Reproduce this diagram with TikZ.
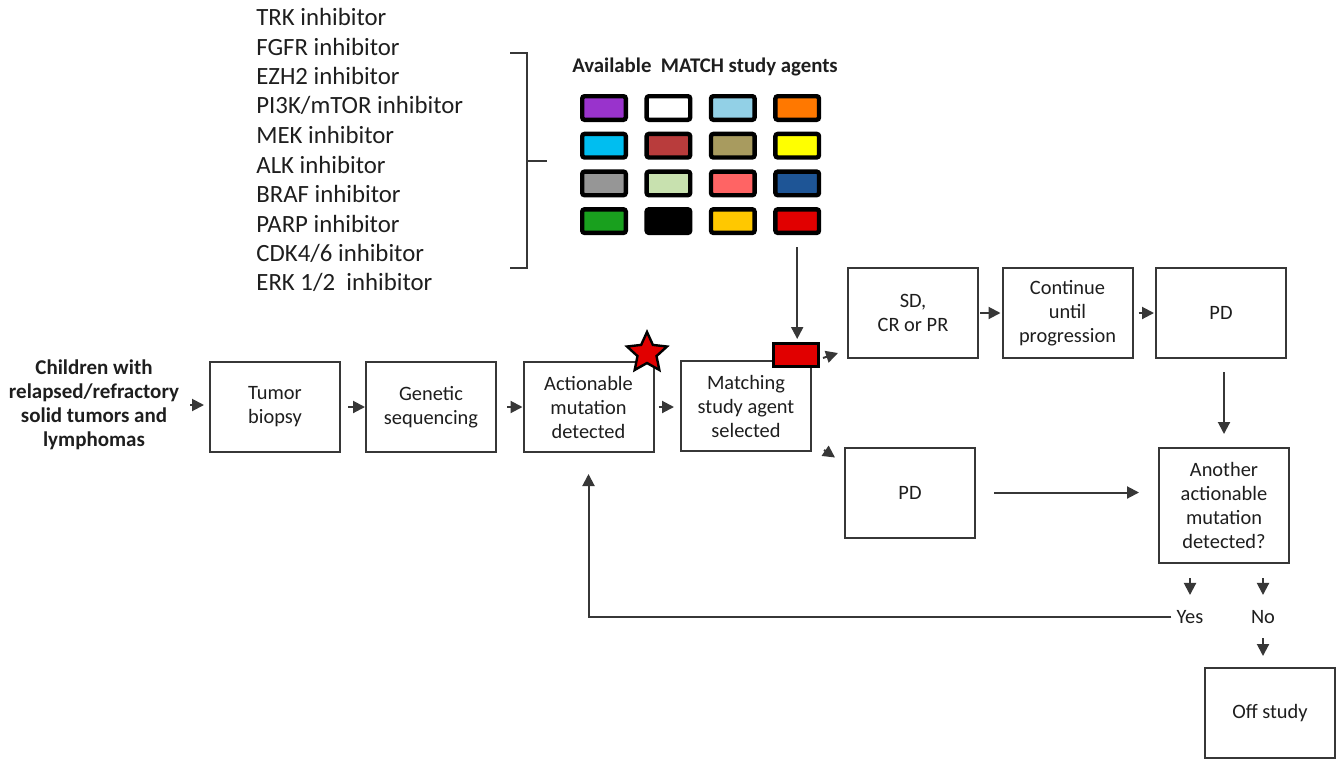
\documentclass[tikz,border=0pt]{standalone}
\usepackage{fontspec}
\setmainfont{Carlito}
\usepackage{xcolor}
\usetikzlibrary{arrows.meta,positioning,shapes.geometric}
\definecolor{boxgrey}{RGB}{55,55,55}
\definecolor{textgrey}{RGB}{30,30,30}
\definecolor{mpurple}{RGB}{153,51,204}
\definecolor{mlightblue}{RGB}{146,208,230}
\definecolor{morange}{RGB}{255,120,0}
\definecolor{mcyan}{RGB}{0,190,240}
\definecolor{mbrick}{RGB}{185,60,60}
\definecolor{mkhaki}{RGB}{168,155,95}
\definecolor{myellow}{RGB}{255,255,0}
\definecolor{mgrey}{RGB}{150,150,150}
\definecolor{mpalegreen}{RGB}{200,225,175}
\definecolor{msalmon}{RGB}{255,100,100}
\definecolor{mdarkblue}{RGB}{30,85,150}
\definecolor{mgreen}{RGB}{25,160,30}
\definecolor{mgold}{RGB}{255,200,0}
\definecolor{mred}{RGB}{225,0,0}
\tikzset{
  procbox/.style={draw=boxgrey,line width=1pt,fill=white,align=center,
    font=\fontsize{10.2}{12}\selectfont,text=textgrey,
    minimum width=65pt,minimum height=45pt,inner sep=2pt},
  swatch/.style={draw=black,line width=2.2pt,rounded corners=1.2pt,
    minimum width=21.8pt,minimum height=11.8pt,inner sep=0pt},
  flow/.style={-{Triangle[length=6pt,width=6pt]},line width=1pt,draw=boxgrey},
  druglabel/.style={font=\fontsize{12.4}{13}\selectfont,anchor=west,inner sep=0pt,text=textgrey},
  smalllabel/.style={font=\fontsize{10.2}{12}\selectfont,align=center,text=textgrey},
  boldlabel/.style={font=\bfseries\fontsize{10.5}{12}\selectfont,align=center,text=textgrey}
}
\begin{document}
\begin{tikzpicture}[x=0.5pt,y=-0.5pt]
  \useasboundingbox (0,0) rectangle (1342,760);
  % agent list and bracket
  \foreach \d [count=\i from 0] in {TRK inhibitor,FGFR inhibitor,EZH2 inhibitor,
      PI3K/mTOR inhibitor,MEK inhibitor,ALK inhibitor,BRAF inhibitor,
      PARP inhibitor,CDK4/6 inhibitor,ERK 1/2\ \ inhibitor}
    {\node[druglabel] (inh\i) at (256,{17+29.5*\i}) {\d};}
  \draw[line width=0.9pt,draw=boxgrey] (510,53) -- (527,53) -- (527,268) -- (510,268);
  \draw[line width=0.9pt,draw=boxgrey] (527,161) -- (547,161);
  % colour grid
  \node[boldlabel,font=\bfseries\fontsize{10.4}{12}\selectfont] (agents) at (705,67) {Available\ \ MATCH study agents};
  \foreach \c [count=\k from 0] in {mpurple,white,mlightblue,morange,
      mcyan,mbrick,mkhaki,myellow,mgrey,mpalegreen,msalmon,mdarkblue,
      mgreen,black,mgold,mred}
    {\pgfmathsetmacro\sx{604+64.4*mod(\k,4)}
     \pgfmathsetmacro\sy{108+37.7*floor(\k/4)}
     \node[swatch,fill=\c] (sw\k) at (\sx,\sy) {};}
  % main flow
  \node[boldlabel] (kids) at (94,405) {Children with\\relapsed/refractory\\solid tumors and\\lymphomas};
  \node[procbox] (tumor) at (275,407) {Tumor\\biopsy};
  \node[procbox] (genetic) at (431,407) {Genetic\\sequencing};
  \node[procbox] (act) at (588.5,407) {Actionable\\mutation\\detected};
  \node[procbox] (match) at (746,406) {Matching\\study agent\\selected};
  \node[star,star points=5,star point ratio=2.1,draw=black,fill=mred,line width=1.2pt,minimum size=21pt,inner sep=0pt] (mark) at (647,353) {};
  \node[draw=black,fill=mred,line width=1.6pt,minimum width=22.4pt,minimum height=11.4pt,inner sep=0pt] (sel) at (796,355) {};
  \node[procbox] (sd) at (913,313) {SD,\\CR or PR};
  \node[procbox] (cont) at (1067.5,313) {Continue\\until\\progression};
  \node[procbox] (pdone) at (1221,313) {PD};
  \node[procbox] (pdtwo) at (910,492.5) {PD};
  \node[procbox,minimum height=57.5pt] (another) at (1224,505.5) {Another\\actionable\\mutation\\detected?};
  \node[smalllabel,inner sep=0pt] (yes) at (1190,617) {Yes};
  \node[smalllabel,inner sep=0pt] (no) at (1263,617) {No};
  \node[procbox] (off) at (1270,713) {Off study};
  % connectors
  \draw[flow,shorten <=2pt,shorten >=2.5pt] (kids.east) -- (kids.east -| tumor.west);
  \draw[flow,shorten <=3.5pt] (tumor) -- (genetic);
  \draw[flow,shorten <=5pt] (genetic) -- (act);
  \draw[flow,shorten <=2pt,shorten >=3pt] (act) -- (act -| match.west);
  \draw[flow,shorten <=6pt,shorten >=1.5pt] (sw15.south) -- (sw15.south |- sel.north);
  \draw[flow] ([xshift=1.5pt,yshift=5pt]sel.south east) -- ([xshift=-4.5pt,yshift=3pt]sd.south west);
  \draw[flow] ([xshift=6pt,yshift=1pt]match.south east) -- ([xshift=-4.5pt,yshift=-5.5pt]pdtwo.north west);
  \draw[flow,shorten <=0.5pt,shorten >=0.5pt] (sd) -- (cont);
  \draw[flow,shorten <=2.5pt,shorten >=0.5pt] (cont) -- (pdone);
  \draw[flow,shorten <=6.5pt,shorten >=6.5pt] (pdone.south -| another.north) -- (another.north);
  \draw[flow,shorten <=9pt,shorten >=9.5pt] (pdtwo.east) -- (pdtwo.east -| another.west);
  \draw[flow,shorten <=7pt,shorten >=7.5pt] (another.south -| yes.north) -- (yes.north);
  \draw[flow,shorten <=7pt,shorten >=7.5pt] (another.south -| no.north) -- (no.north);
  \draw[flow,shorten <=7pt,shorten >=5.5pt] (no.south) -- (no.south |- off.north);
  \draw[flow,shorten <=2.5pt,shorten >=10.5pt] (yes.west) -| (act.south);
\end{tikzpicture}
\end{document}
